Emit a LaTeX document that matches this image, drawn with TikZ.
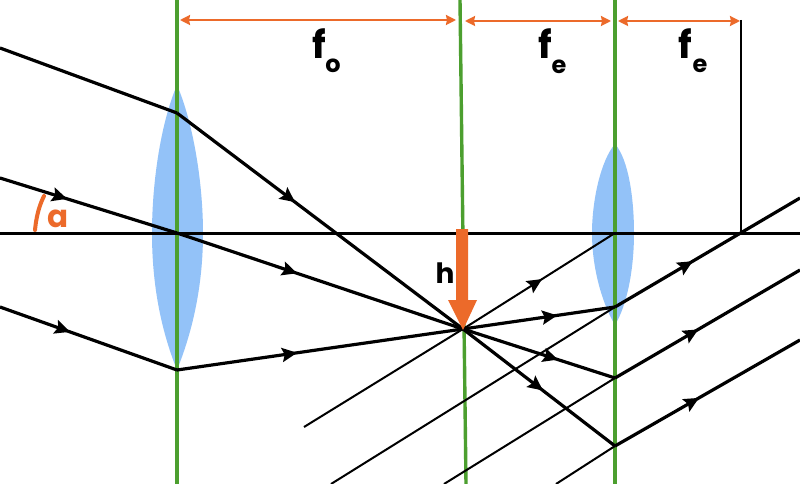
\documentclass[tikz,border=0pt]{standalone}
\usepackage{fontspec}
\setmainfont{Poppins}
\usetikzlibrary{arrows.meta,decorations.markings}
\definecolor{lensblue}{HTML}{93C2F8}
\definecolor{axisgreen}{HTML}{4C9F2F}
\definecolor{markorange}{HTML}{EC6A2A}
\tikzset{
  ray/.style={black,line width=3.2pt},
  thinray/.style={black,line width=2pt},
  midarr/.style={postaction={decorate},decoration={markings,mark=at position #1 with {\arrow{Stealth[length=15pt,width=14pt,inset=2.5pt]}}}},
  greenline/.style={axisgreen,line width=3.4pt},
  lensfill/.style={lensblue,draw=none},
  dimline/.style={markorange,line width=2pt,{Stealth[length=10pt,width=10pt,inset=1pt]}-{Stealth[length=10pt,width=10pt,inset=1pt]}},
  bigtext/.style={font=\bfseries\fontsize{38}{38}\selectfont,inner sep=0pt},
  subtext/.style={font=\bfseries\fontsize{24}{24}\selectfont,inner sep=0pt},
}
\begin{document}
\begin{tikzpicture}[x=1pt,y=-1pt]
\useasboundingbox (0,0) rectangle (800,484);
\fill[white] (0,0) rectangle (800,484);
% lenses
\fill[lensfill] (177,85) .. controls (194,125) and (203,185) .. (203,233) .. controls (203,285) and (193,330) .. (177,370)
  .. controls (161,330) and (152,285) .. (152,233) .. controls (152,185) and (160,125) .. (177,85) -- cycle;
\fill[lensfill] (615,144) .. controls (629,160) and (634,200) .. (634,233) .. controls (634,270) and (627,305) .. (615,325)
  .. controls (603,305) and (592,270) .. (592,233) .. controls (592,200) and (601,160) .. (615,144) -- cycle;
% coordinates
\coordinate (G1t) at (177,0); \coordinate (G1b) at (177,484);
\coordinate (G2t) at (460,0); \coordinate (G2b) at (466,484);
\coordinate (G3t) at (615,0); \coordinate (G3b) at (615,484);
\coordinate (AL) at (0,233); \coordinate (AR) at (800,233);
\coordinate (F) at (463,329);
\coordinate (A1) at (177,113); \coordinate (A2) at (177,233); \coordinate (A3) at (177,370);
\coordinate (S1) at (0,48); \coordinate (S2) at (0,178); \coordinate (S3) at (0,307);
\coordinate (E0) at (615,233); \coordinate (E1) at (615,307); \coordinate (E2) at (615,378); \coordinate (E3) at (615,446);
\coordinate (O1) at (800,198); \coordinate (O2) at (800,270); \coordinate (O3) at (800,340);
\coordinate (T0) at (304,427); \coordinate (T1) at (331,484); \coordinate (T2) at (444,484); \coordinate (T3) at (556,484);
\coordinate (V) at (741,233); \coordinate (Vt) at (741,20);
% green lines
\draw[greenline] (G1t) -- (G1b);
\draw[greenline] (G2t) -- (G2b);
\draw[greenline] (G3t) -- (G3b);
% axis and focal plane
\draw[black,line width=3pt] (AL) -- (AR);
\draw[black,line width=2.2pt] (Vt) -- (V);
% rays
\draw[ray] (S1) -- (A1);
\draw[ray,midarr=0.413] (A1) -- (F);
\draw[ray,midarr=0.379] (S2) -- (A2);
\draw[ray,midarr=0.42] (A2) -- (F);
\draw[ray,midarr=0.395] (S3) -- (A3);
\draw[ray,midarr=0.42] (A3) -- (F);
\draw[ray,midarr=0.62] (F) -- (E1);
\draw[ray,midarr=0.625] (F) -- (E2);
\draw[ray,midarr=0.526] (F) -- (E3);
\draw[ray,midarr=0.42] (E1) -- (O1);
\draw[ray,midarr=0.45] (E2) -- (O2);
\draw[ray,midarr=0.454] (E3) -- (O3);
% virtual rays
\draw[thinray] (T0) -- (F);
\draw[thinray,midarr=0.52] (F) -- (E0);
\draw[thinray] (T1) -- (E1);
\draw[thinray] (T2) -- (E2);
\draw[thinray] (T3) -- (E3);
% dimensions
\coordinate (D1a) at (180,20); \coordinate (D1b) at (456,20);
\coordinate (D2a) at (465,21); \coordinate (D2b) at (611,21);
\coordinate (D3a) at (618,21); \coordinate (D3b) at (740,21);
\draw[dimline] (D1a) -- (D1b);
\draw[dimline] (D2a) -- (D2b);
\draw[dimline] (D3a) -- (D3b);
% image arrow
\fill[markorange] (456,229) -- (468,229) -- (468,300) -- (477,300) -- (463,330) -- (448,300) -- (456,300) -- cycle;
% angle mark
\draw[markorange,line width=4pt,line cap=round] (44,196) .. controls (38,208) and (36,220) .. (35,230);
% labels
\node[bigtext,anchor=base] (fo) at (319,59) {f};
\node[subtext,anchor=base] (fosub) at (333,73) {o};
\node[bigtext,anchor=base] (fe1) at (545,59) {f};
\node[subtext,anchor=base] (fe1sub) at (559,74) {e};
\node[bigtext,anchor=base] (fe2) at (685,59) {f};
\node[subtext,anchor=base] (fe2sub) at (700,73) {e};
\node[font=\bfseries\fontsize{28}{28}\selectfont,inner sep=0pt,anchor=base] (h) at (445,283) {h};
\node[font=\bfseries\fontsize{31}{31}\selectfont,inner sep=0pt,anchor=base,text=markorange] (a) at (58,227) {a};
\end{tikzpicture}
\end{document}
